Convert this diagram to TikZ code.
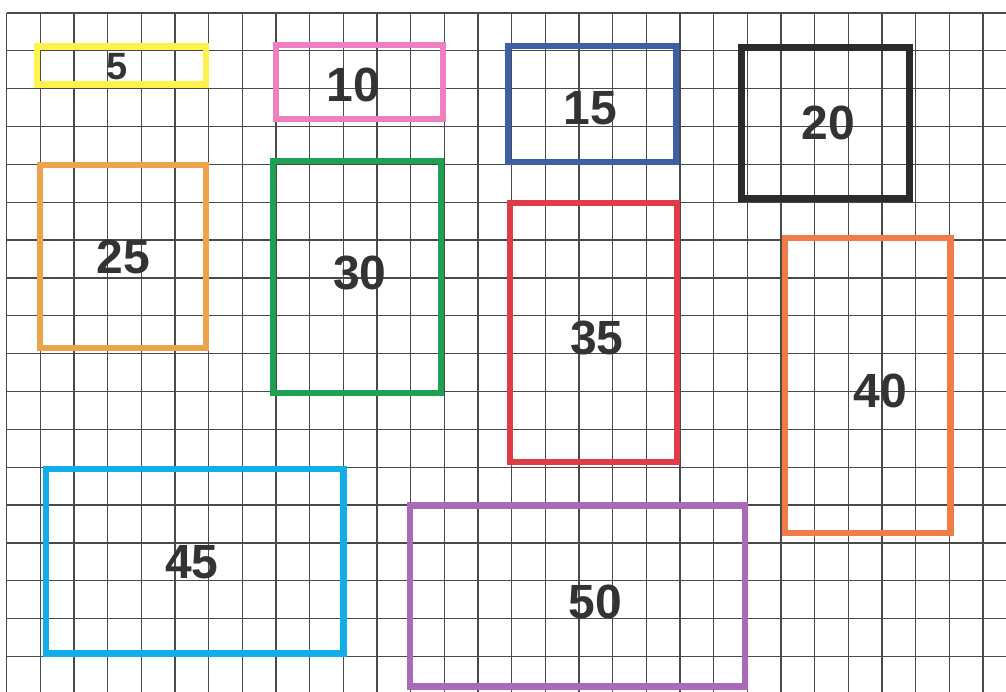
\documentclass[tikz,border=0pt]{standalone}
\usepackage{fontspec}
\setmainfont{Liberation Sans}
\definecolor{gridc}{HTML}{4A4A4A}
\definecolor{txt}{HTML}{333333}
\definecolor{cyel}{HTML}{FFF24A}
\definecolor{cpink}{HTML}{EE80C2}
\definecolor{cblue}{HTML}{3E5EA6}
\definecolor{cblack}{HTML}{2B2B2B}
\definecolor{corA}{HTML}{EDA24C}
\definecolor{cgreen}{HTML}{20A152}
\definecolor{cred}{HTML}{E03C48}
\definecolor{corB}{HTML}{F07C4A}
\definecolor{ccyan}{HTML}{12AEEA}
\definecolor{cpurp}{HTML}{A96AB9}
\tikzset{
  gridline/.style={draw=gridc, line width=1.3pt},
  box/.style={rectangle, draw=#1, line width=6.5pt, inner sep=0pt, fill=none},
  num/.style={text=txt, inner sep=0pt, font=\fontsize{48}{48}\selectfont\bfseries},
  numsmall/.style={text=txt, inner sep=0pt, font=\fontsize{38}{38}\selectfont\bfseries}
}
\begin{document}
\begin{tikzpicture}[x=1pt, y=-1pt]
\useasboundingbox[fill=white] (0,0) rectangle (1006,692);
% grid
\foreach \i in {0,...,29}
  \draw[gridline] ({6.7+33.66*\i},13) -- ({6.7+33.66*\i},692);
\foreach \j in {0,...,17}
  \draw[gridline] (6.7,{13+37.85*\j}) -- (1006,{13+37.85*\j});
% rectangles
\node[box=cyel, minimum width=169pt, minimum height=38pt] (b5) at (121.5,65.5) {};
\node[box=cpink, minimum width=167pt, minimum height=74pt] (b10) at (359.5,82) {};
\node[box=cblue, minimum width=168pt, minimum height=116pt] (b15) at (592,104) {};
\node[box=cblack, minimum width=167.6pt, minimum height=151pt] (b20) at (825.5,122.8) {};
\node[box=corA, minimum width=166pt, minimum height=183pt] (b25) at (123,256.5) {};
\node[box=cgreen, minimum width=168pt, minimum height=232pt] (b30) at (357,277) {};
\node[box=cred, minimum width=167pt, minimum height=259pt] (b35) at (593.5,332.5) {};
\node[box=corB, minimum width=165.7pt, minimum height=295pt] (b40) at (867.8,385.5) {};
\node[box=ccyan, minimum width=297.3pt, minimum height=184.3pt] (b45) at (194.7,561.2) {};
\node[box=cpurp, minimum width=335pt, minimum height=181pt] (b50) at (577.5,596.2) {};
% labels
\node[numsmall] (t5) at (117.3,66.7) {5};
\node[num] (t10) at (353.3,85) {10};
\node[num] (t15) at (590,108) {15};
\node[num] (t20) at (828.3,123.3) {20};
\node[num] (t25) at (123.3,256.7) {25};
\node[num] (t30) at (360,273.3) {30};
\node[num] (t35) at (596.7,338.3) {35};
\node[num] (t40) at (880,391.3) {40};
\node[num] (t45) at (191.7,562.3) {45};
\node[num] (t50) at (595,602.3) {50};
\end{tikzpicture}
\end{document}
